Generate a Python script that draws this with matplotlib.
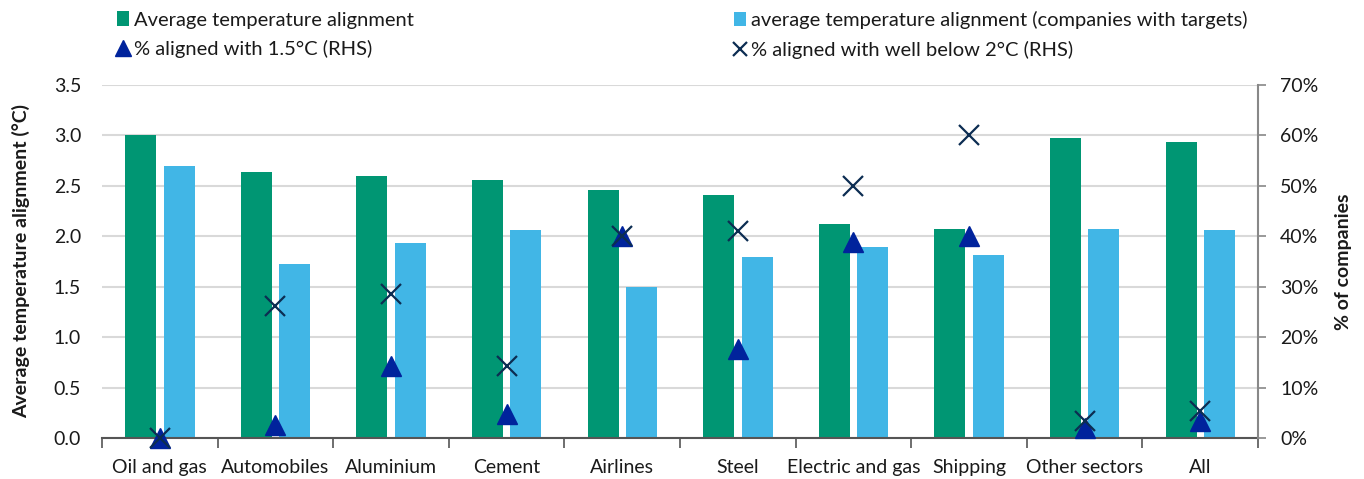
import matplotlib.pyplot as plt
import numpy as np
from matplotlib.patches import Patch
from matplotlib.lines import Line2D
from matplotlib.ticker import FuncFormatter

plt.rcParams['font.family'] = ['Lato', 'DejaVu Sans']

sectors = ["Oil and gas", "Automobiles", "Aluminium", "Cement", "Airlines",
           "Steel", "Electric and gas", "Shipping", "Other sectors", "All"]
avg_temp = [3.00, 2.64, 2.60, 2.56, 2.46, 2.41, 2.12, 2.07, 2.97, 2.93]
avg_temp_targets = [2.70, 1.73, 1.93, 2.06, 1.50, 1.79, 1.89, 1.81, 2.07, 2.06]
pct_1_5 = [0.0, 2.5, 14.2, 4.8, 40.0, 17.6, 38.8, 40.0, 1.9, 3.3]
pct_wb2 = [0.0, 26.1, 28.5, 14.2, 40.0, 41.0, 50.0, 60.0, 3.3, 5.4]

green = '#009673'
light_blue = '#41B6E6'
dark_blue = '#00239C'
navy = '#0C2D52'
text_col = '#1a1a1a'

x = np.arange(len(sectors))
w = 0.268
off = 0.166

fig = plt.figure(figsize=(13.64, 4.79), dpi=100)
ax = fig.add_axes([0.0748, 0.0856, 0.8475, 0.737])
ax2 = ax.twinx()

ax.bar(x - off, avg_temp, w, color=green, zorder=2)
ax.bar(x + off, avg_temp_targets, w, color=light_blue, zorder=2)

ax2.plot(x, pct_1_5, linestyle='none', marker='^', markersize=14,
         color=dark_blue, clip_on=False, zorder=3)
ax2.plot(x, pct_wb2, linestyle='none', marker='x', markersize=14,
         markeredgewidth=1.6, color=navy, clip_on=False, zorder=4)

ax.set_xlim(-0.5, len(sectors) - 0.5)
ax.set_ylim(0, 3.5)
ax.set_yticks(np.arange(0, 3.51, 0.5))
ax.yaxis.set_major_formatter(FuncFormatter(lambda v, p: f"{v:.1f}"))
ax2.set_ylim(0, 70)
ax2.set_yticks(np.arange(0, 71, 10))
ax2.yaxis.set_major_formatter(FuncFormatter(lambda v, p: f"{v:.0f}%"))

ax.grid(axis='y', color='#d9d9d9', linewidth=1.5, zorder=0)
ax.set_axisbelow(True)

# category labels centred, tick marks between categories
ax.set_xticks(x)
ax.set_xticklabels(sectors)
ax.set_xticks(np.arange(-0.5, len(sectors), 1), minor=True)
ax.tick_params(axis='x', which='major', length=0, pad=15,
               labelsize=14, labelcolor=text_col)
ax.tick_params(axis='x', which='minor', length=7, width=1.2,
               color='#555555', direction='out')
ax.tick_params(axis='y', length=0, pad=15, labelsize=14, labelcolor=text_col)
ax2.tick_params(axis='y', length=6, width=1.2, color='#888888',
                direction='out', pad=10, labelsize=14, labelcolor=text_col)

for s in ['top', 'left', 'right']:
    ax.spines[s].set_visible(False)
ax.spines['bottom'].set_color('#555555')
ax.spines['bottom'].set_linewidth(1.5)
for s in ['top', 'left', 'bottom']:
    ax2.spines[s].set_visible(False)
ax2.spines['right'].set_color('#888888')
ax2.spines['right'].set_linewidth(1.5)

ax.set_ylabel("Average temperature alignment (°C)", fontsize=14,
              fontweight='bold', color=text_col, labelpad=17)
ax2.set_ylabel("% of companies", fontsize=14, fontweight='bold',
               color=text_col, labelpad=12)

h_green = Patch(facecolor=green, edgecolor='none')
h_blue = Patch(facecolor=light_blue, edgecolor='none')
h_tri = Line2D([], [], linestyle='none', marker='^', markersize=11, color=dark_blue)
h_x = Line2D([], [], linestyle='none', marker='x', markersize=10,
             markeredgewidth=1.6, color=navy)

leg_kw = dict(frameon=False, fontsize=14.5, handlelength=0.6, handleheight=0.7,
              handletextpad=0.25, labelspacing=0.55, borderaxespad=0,
              labelcolor=text_col)
leg1 = fig.legend([h_green, h_tri],
                  ["Average temperature alignment", "% aligned with 1.5°C (RHS)"],
                  loc='upper left', bbox_to_anchor=(0.080, 0.993), **leg_kw)
leg2 = fig.legend([h_blue, h_x],
                  ["average temperature alignment (companies with targets)",
                   "% aligned with well below 2°C (RHS)"],
                  loc='upper left', bbox_to_anchor=(0.532, 0.993), **leg_kw)

fig.savefig("out.png", dpi=100)
